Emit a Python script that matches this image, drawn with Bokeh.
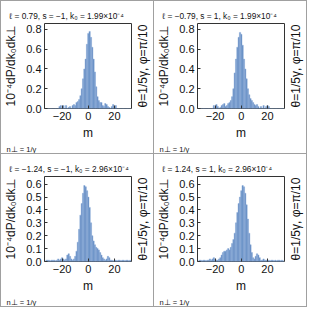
import math
from bokeh.plotting import figure
from bokeh.layouts import row, column
from bokeh.models import (Range1d, FixedTicker, Title, PrintfTickFormatter)
from bokeh.embed import file_html
from bokeh.resources import INLINE

m_values = list(range(-32, 33))

# ℓ = 0.79, s = -1
tl_vals = [0, 0, 0, 0, 0, 0, 0, 0, 0, 0,                      # -32..-23
           0.02, 0.03, 0.0, 0.03, 0.0, 0.03, 0.0, 0.01, 0.02, 0.0,   # -22..-13
           0.03, 0.04, 0.03, 0.06, 0.07, 0.09, 0.13, 0.2, 0.3, 0.4,  # -12..-3
           0.5, 0.65, 0.76, 0.78, 0.72, 0.62, 0.5, 0.37, 0.22, 0.12,  # -2..7
           0.08, 0.06, 0.06, 0.03, 0.02, 0.05, 0.04, 0.02, 0.01, 0.0,  # 8..17
           0.02, 0.04, 0.01, 0.03, 0.0, 0, 0, 0, 0, 0,                 # 18..27
           0, 0, 0, 0, 0]                                              # 28..32
# ℓ = -0.79, s = 1
tr_vals = [0, 0, 0, 0, 0, 0, 0, 0, 0, 0,
           0.0, 0.03, 0.01, 0.04, 0.02, 0.0, 0.01, 0.03, 0.04, 0.05,
           0.02, 0.03, 0.05, 0.06, 0.08, 0.12, 0.2, 0.36, 0.5, 0.62,
           0.72, 0.77, 0.75, 0.64, 0.5, 0.4, 0.3, 0.2, 0.14, 0.1,
           0.08, 0.06, 0.04, 0.03, 0.04, 0.02, 0.0, 0.02, 0.0, 0.03,
           0.0, 0.02, 0.03, 0.02, 0.0, 0, 0, 0, 0, 0,
           0, 0, 0, 0, 0]
# ℓ = -1.24, s = -1
bl_vals = [0.01, 0.01, 0.01, 0.005, 0.01, 0.01, 0.01, 0.005, 0.01, 0.02,
           0.01, 0.02, 0.03, 0.02, 0.01, 0.02, 0.05, 0.06, 0.04, 0.02,
           0.01, 0.02, 0.04, 0.08, 0.15, 0.25, 0.36, 0.45, 0.53, 0.59,
           0.58, 0.55, 0.5, 0.42, 0.3, 0.2, 0.16, 0.13, 0.11, 0.1,
           0.09, 0.07, 0.05, 0.03, 0.02, 0.01, 0.02, 0.04, 0.03, 0.01,
           0.01, 0.005, 0.01, 0.01, 0.005, 0.01, 0.01, 0.005, 0.01, 0.01,
           0.005, 0.01, 0.01, 0.005, 0.01]
# ℓ = 1.24, s = 1
br_vals = [0.01, 0.01, 0.005, 0.01, 0.01, 0.005, 0.01, 0.01, 0.02, 0.01,
           0.02, 0.03, 0.02, 0.01, 0.01, 0.02, 0.03, 0.05, 0.07, 0.08,
           0.08, 0.09, 0.1, 0.09, 0.11, 0.14, 0.17, 0.22, 0.3, 0.38,
           0.45, 0.5, 0.55, 0.59, 0.58, 0.53, 0.44, 0.33, 0.22, 0.13,
           0.07, 0.03, 0.02, 0.04, 0.06, 0.05, 0.03, 0.01, 0.01, 0.02,
           0.01, 0.01, 0.005, 0.01, 0.005, 0.01, 0.01, 0.005, 0.01, 0.005,
           0.01, 0.01, 0.005, 0.01, 0.005]

titles = ["ℓ = 0.79, s = −1, k₀ = 1.99×10⁻⁴",
          "ℓ = −0.79, s = 1, k₀ = 1.99×10⁻⁴",
          "ℓ = −1.24, s = −1, k₀ = 2.96×10⁻⁴",
          "ℓ = 1.24, s = 1, k₀ = 2.96×10⁻⁴"]
y_label = "10⁻⁴dP/dk₀dk⊥"
x_label = "m"
side_label = "θ=1/5γ, φ=π/10"
corner_label = "n⊥ = 1/γ"

x_ticks = [-20, 0, 20]
x_tick_labels = ["−20", "0", "20"]
y_ticks_top = [0.0, 0.2, 0.4, 0.6, 0.8]
y_ticks_bottom = [0.0, 0.1, 0.2, 0.3, 0.4, 0.5, 0.6]
y_max_top = 0.86
y_max_bottom = 0.66

MAIN_W, SIDE_W, H = 131, 21, 152
TOP, BOTTOM, LEFT = 22, 40, 43
FONT = "Liberation Sans"
TXT = "#111111"
BAR = "#5b83bd"
EDGE = "#93b3dc"


def panel(vals, title, yticks, ymax):
    p = figure(width=MAIN_W, height=H, output_backend="svg", toolbar_location=None,
               x_range=Range1d(-33.5, 33), y_range=Range1d(0, ymax),
               min_border_left=LEFT, min_border_right=1, min_border_top=TOP,
               min_border_bottom=BOTTOM, border_fill_color="white")
    p.grid.visible = False
    p.outline_line_color = "#333333"
    p.vbar(x=m_values, top=vals, width=1.0, fill_color=BAR, line_color=EDGE,
           line_width=0.5)
    p.xaxis.ticker = FixedTicker(ticks=x_ticks)
    p.xaxis.major_label_overrides = {t: s for t, s in zip(x_ticks, x_tick_labels)}
    p.yaxis.ticker = FixedTicker(ticks=yticks)
    p.yaxis.formatter = PrintfTickFormatter(format="%.1f")
    for ax in (p.xaxis[0], p.yaxis[0]):
        ax.axis_line_color = None
        ax.major_tick_in = 3
        ax.major_tick_out = 0
        ax.minor_tick_line_color = None
        ax.major_tick_line_color = "#333333"
        ax.major_label_text_font = FONT
        ax.major_label_text_font_size = "11px"
        ax.major_label_text_color = TXT
        ax.major_label_standoff = 3
        ax.axis_label_text_font = FONT
        ax.axis_label_text_font_style = "normal"
        ax.axis_label_text_color = TXT
    p.yaxis.axis_label = y_label
    p.yaxis.axis_label_text_font_size = "12px"
    p.yaxis.axis_label_standoff = 5
    p.xaxis.axis_label = x_label
    p.xaxis.axis_label_text_font_size = "12px"
    p.xaxis.axis_label_standoff = 3

    p.title.text = title
    p.title.align = "left"
    p.title.offset = -35
    p.title.text_font = FONT
    p.title.text_font_style = "normal"
    p.title.text_font_size = "8.3px"
    p.title.text_color = TXT
    p.title.standoff = 5

    p.add_layout(Title(text=corner_label, align="left", offset=-38,
                       text_font=FONT, text_font_style="normal",
                       text_font_size="7.5px", text_color=TXT, standoff=0),
                 "below")

    # narrow companion canvas carrying the right-hand rotated label
    s = figure(width=SIDE_W, height=H, output_backend="svg", toolbar_location=None,
               x_range=Range1d(0, 1), y_range=Range1d(0, 1), x_axis_location=None,
               min_border_left=SIDE_W - 1, min_border_right=0, min_border_top=TOP,
               min_border_bottom=BOTTOM, border_fill_color="white")
    s.grid.visible = False
    s.outline_line_color = None
    s.yaxis.ticker = FixedTicker(ticks=[])
    s.yaxis.axis_line_color = None
    s.yaxis.major_tick_line_color = None
    s.yaxis.minor_tick_line_color = None
    s.yaxis.axis_label = side_label
    s.yaxis.axis_label_standoff = 4
    s.yaxis.axis_label_text_font = FONT
    s.yaxis.axis_label_text_font_style = "normal"
    s.yaxis.axis_label_text_font_size = "12px"
    s.yaxis.axis_label_text_color = TXT
    cell = row(p, s, spacing=0)
    cell.styles = {"background-color": "white"}
    return cell


c1 = panel(tl_vals, titles[0], y_ticks_top, y_max_top)
c2 = panel(tr_vals, titles[1], y_ticks_top, y_max_top)
c3 = panel(bl_vals, titles[2], y_ticks_bottom, y_max_bottom)
c4 = panel(br_vals, titles[3], y_ticks_bottom, y_max_bottom)

layout = column(row(c1, c2, spacing=1), row(c3, c4, spacing=1), spacing=1)
layout.styles = {"background-color": "#a0a0a0", "border": "1px solid #a0a0a0"}
open("out.html", "w").write(file_html(layout, INLINE))
